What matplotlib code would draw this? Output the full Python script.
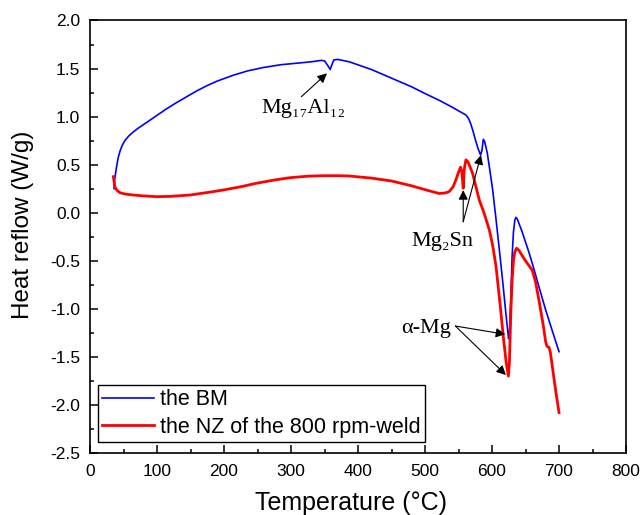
import matplotlib
matplotlib.use("Agg")
import matplotlib.pyplot as plt
from matplotlib.ticker import MultipleLocator, FormatStrFormatter

plt.rcParams['mathtext.fontset'] = 'stix'
plt.rcParams['font.family'] = ['Liberation Sans', 'DejaVu Sans']

# Blue: the BM
bm_T = [35.8, 37, 39.7, 42, 44.7, 48, 52, 58, 64.5, 72, 79.4, 90, 99.3, 114, 129, 145, 160,
        174, 190, 213.5, 235, 258, 285, 307.7, 330, 345, 350, 355, 358.5, 361, 364, 370,
        387, 420, 450, 480, 500, 521, 540, 561, 565, 568, 572, 575.3, 579, 583, 585, 587,
        589, 593, 597, 601, 606, 611, 616, 620, 623, 624.7, 626, 628, 630, 632, 634, 635.6,
        638, 645, 655, 663, 670, 680, 690, 700]
bm_HF = [0.25, 0.36, 0.48, 0.57, 0.64, 0.70, 0.75, 0.80, 0.84, 0.88, 0.915, 0.965, 1.01, 1.08,
         1.145, 1.21, 1.27, 1.32, 1.37, 1.43, 1.475, 1.51, 1.54, 1.555, 1.57, 1.585, 1.58, 1.53,
         1.49, 1.54, 1.59, 1.595, 1.57, 1.49, 1.40, 1.31, 1.24, 1.17, 1.10, 1.017, 0.98, 0.93,
         0.84, 0.757, 0.67, 0.60, 0.65, 0.764, 0.74, 0.618, 0.43, 0.236, -0.07, -0.39, -0.72,
         -1.0, -1.2, -1.31, -1.25, -0.9, -0.45, -0.2, -0.08, -0.048, -0.07, -0.2, -0.41, -0.596,
         -0.77, -1.01, -1.23, -1.446]

# Red: the NZ of the 800 rpm-weld
nz_T = [34.8, 36, 37, 40, 44.7, 52, 64.5, 80, 99.3, 120, 149, 175, 198.6, 225, 248, 275, 298,
        325, 347.6, 370, 387, 420, 450, 480, 500, 521, 530, 536, 542, 546, 550, 553, 555, 557,
        558.5, 561, 564, 567, 571, 576, 581, 588, 596, 601, 606, 612, 617, 621, 624.5, 626,
        628, 630, 632, 634, 636.6, 640, 648, 655, 660, 665, 670, 676, 680, 682, 685, 687, 690,
        695, 700]
nz_HF = [0.375, 0.32, 0.27, 0.235, 0.208, 0.195, 0.184, 0.175, 0.167, 0.17, 0.184, 0.21, 0.236,
         0.27, 0.306, 0.34, 0.364, 0.38, 0.385, 0.385, 0.382, 0.36, 0.33, 0.28, 0.24, 0.20,
         0.205, 0.219, 0.27, 0.34, 0.42, 0.473, 0.42, 0.254, 0.45, 0.55, 0.53, 0.48, 0.41, 0.27,
         0.132, 0.0, -0.18, -0.34, -0.56, -0.95, -1.3, -1.55, -1.70, -1.55, -1.05, -0.7, -0.5,
         -0.41, -0.37, -0.39, -0.48, -0.55, -0.596, -0.72, -0.91, -1.15, -1.34, -1.39, -1.40,
         -1.45, -1.6, -1.85, -2.08]

labels = ['the BM', 'the NZ of the 800 rpm-weld']

fig = plt.figure(figsize=(6.43, 5.15), dpi=100)
ax = fig.add_axes([0.140, 0.1204, 0.8336, 0.8398])

ax.plot(bm_T, bm_HF, color='#0000ff', lw=1.2, label=labels[0])
ax.plot(nz_T, nz_HF, color='#ff0000', lw=2.0, label=labels[1])

ax.set_xlim(0, 800)
ax.set_ylim(-2.5, 2.0)
ax.xaxis.set_major_locator(MultipleLocator(100))
ax.xaxis.set_minor_locator(MultipleLocator(50))
ax.yaxis.set_major_locator(MultipleLocator(0.5))
ax.yaxis.set_minor_locator(MultipleLocator(0.25))
ax.yaxis.set_major_formatter(FormatStrFormatter('%.1f'))
ax.tick_params(which='both', direction='in', top=False, right=False, labelsize=12.5, width=1.1)
ax.tick_params(which='major', length=6)
ax.tick_params(which='minor', length=3)
ax.tick_params(axis='y', which='major', pad=7)
ax.tick_params(axis='x', which='major', pad=8)
for s in ax.spines.values():
    s.set_linewidth(1.2)

ax.set_xlabel('Temperature (°C)', fontsize=18)
ax.set_ylabel('Heat reflow (W/g)', fontsize=17.5)
ax.xaxis.set_label_coords(0.487, -0.088)
ax.yaxis.set_label_coords(-0.104, 0.527)

serif = ['Liberation Serif', 'DejaVu Serif']
arrow = dict(arrowstyle='-|>', color='black', lw=0.8, mutation_scale=14, shrinkA=0, shrinkB=0)

ax.text(256, 1.034, 'Mg₁₇Al₁₂', fontsize=16, family=serif, ha='left', va='baseline')
ax.annotate('', xy=(353.6, 1.45), xytext=(315.4, 1.207), arrowprops=arrow)

ax.text(480, -0.346, 'Mg₂Sn', fontsize=16, family=serif, ha='left', va='baseline')
ax.annotate('', xy=(557, 0.235), xytext=(557, -0.094), arrowprops=arrow)
ax.annotate('', xy=(583.5, 0.60), xytext=(557, -0.094), arrowprops=arrow)

ax.text(464, -1.255, 'α-Mg', fontsize=16, family=serif, ha='left', va='baseline')
ax.annotate('', xy=(619.8, -1.265), xytext=(545.3, -1.179), arrowprops=arrow)
ax.annotate('', xy=(620.8, -1.689), xytext=(545.3, -1.179), arrowprops=arrow)

leg = ax.legend(loc='lower left', bbox_to_anchor=(0.015, 0.025), borderaxespad=0,
                fontsize=15.5, fancybox=False, edgecolor='black', framealpha=1,
                handlelength=2.4, handletextpad=0.3, labelspacing=0.3, borderpad=0.2)
leg.get_frame().set_linewidth(1.0)

fig.savefig('out.png', dpi=100)
